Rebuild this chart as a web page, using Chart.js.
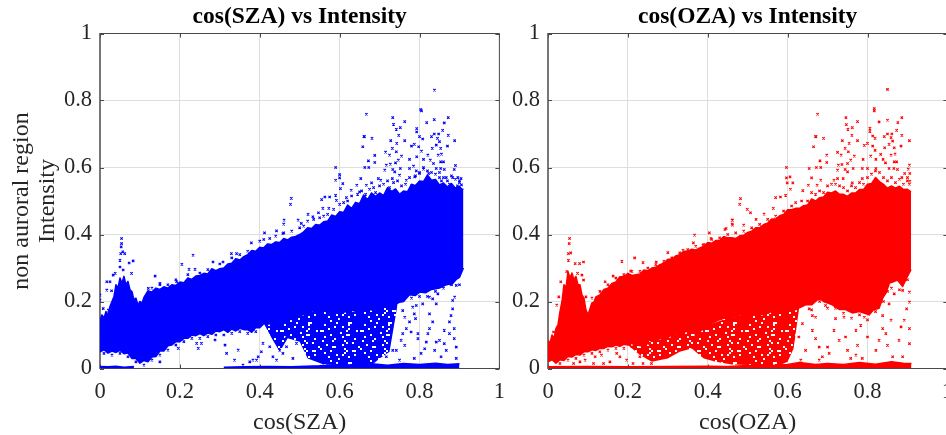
<!DOCTYPE html>
<html>
<head>
<meta charset="utf-8">
<script src="https://cdn.jsdelivr.net/npm/chart.js@4"></script>
<style>
    html, body { margin: 0; padding: 0; background: #fff; width: 946px; height: 435px; overflow: hidden; }
    canvas { position: absolute; top: 0; }
    #chartSza { left: 0; }
    #chartOza { left: 505px; }
</style>
</head>
<body>
<canvas id="chartSza" width="515" height="435"></canvas>
<canvas id="chartOza" width="458" height="435"></canvas>
<script>
const tickValues = [0, 0.2, 0.4, 0.6, 0.8, 1];
const tickLabels = ['0', '0.2', '0.4', '0.6', '0.8', '1'];

// dense cloud outline, [cos, intensity]
const blueUpper = [[0,.145],[.005,.16],[.01,.15],[.015,.17],[.02,.16],[.025,.185],[.03,.2],[.035,.215],[.04,.25],[.045,.24],[.05,.27],[.055,.255],[.06,.275],[.065,.25],[.07,.26],[.075,.235],[.08,.23],[.085,.205],[.09,.21],[.095,.19],[.1,.2],[.105,.195],[.11,.212],[.12,.232],[.13,.228],[.14,.24],[.15,.236],[.16,.244],[.17,.24],[.18,.25],[.19,.248],[.2,.258],[.21,.256],[.22,.27],[.23,.266],[.24,.276],[.25,.278],[.26,.284],[.27,.282],[.28,.298],[.29,.292],[.3,.298],[.31,.3],[.32,.312],[.33,.314],[.34,.328],[.35,.324],[.36,.334],[.37,.34],[.38,.352],[.39,.35],[.4,.362],[.41,.36],[.42,.372],[.43,.37],[.44,.378],[.45,.376],[.46,.388],[.47,.384],[.48,.392],[.49,.394],[.5,.4],[.51,.408],[.52,.42],[.53,.418],[.54,.43],[.55,.428],[.56,.438],[.57,.44],[.58,.458],[.59,.454],[.6,.468],[.61,.466],[.62,.488],[.63,.478],[.64,.496],[.65,.492],[.66,.518],[.67,.504],[.68,.524],[.69,.514],[.7,.524],[.71,.516],[.72,.54],[.73,.528],[.74,.536],[.75,.52],[.76,.53],[.77,.528],[.78,.55],[.79,.546],[.8,.56],[.81,.558],[.82,.578],[.83,.562],[.84,.564],[.85,.548],[.86,.554],[.87,.542],[.88,.552],[.89,.538],[.9,.544],[.905,.536],[.91,.535]];
const blueLower = [[0,.05],[.01,.056],[.02,.046],[.03,.052],[.04,.048],[.05,.054],[.06,.044],[.07,.046],[.08,.03],[.09,.03],[.1,.016],[.11,.024],[.12,.02],[.13,.034],[.14,.036],[.15,.052],[.16,.052],[.17,.068],[.18,.07],[.19,.08],[.2,.08],[.21,.09],[.22,.09],[.23,.1],[.24,.098],[.25,.104],[.26,.098],[.27,.106],[.28,.102],[.29,.112],[.3,.11],[.31,.116],[.32,.108],[.33,.118],[.34,.112],[.35,.12],[.36,.116],[.37,.116],[.38,.108],[.39,.122],[.4,.122],[.41,.134],[.42,.132],[.43,.136],[.44,.134],[.45,.14],[.46,.138],[.475,.146],[.49,.148],[.5,.158],[.517,.162],[.53,.172],[.545,.168],[.558,.174],[.57,.168],[.59,.172],[.61,.168],[.63,.174],[.65,.168],[.67,.176],[.69,.174],[.71,.184],[.73,.184],[.75,.198],[.76,.2],[.775,.22],[.79,.218],[.8,.228],[.815,.226],[.83,.236],[.85,.24],[.87,.252],[.88,.25],[.892,.266],[.9,.272],[.91,.3]];
const blueSpeckleTop = [[.41,.14],[.55,.19],[.65,.19],[.745,.2]];
const blueSpeckleBottom = [[.41,.135],[.43,.09],[.45,.05],[.47,.09],[.5,.08],[.52,.03],[.56,.012],[.62,.01],[.68,.01],[.7,.03],[.725,.05],[.745,.19]];
const redUpper = [[0,.085],[.005,.075],[.01,.1],[.015,.09],[.02,.12],[.025,.13],[.03,.17],[.035,.2],[.04,.25],[.045,.24],[.05,.29],[.055,.27],[.06,.285],[.065,.265],[.07,.275],[.075,.25],[.08,.25],[.085,.22],[.09,.21],[.095,.175],[.1,.16],[.105,.178],[.11,.196],[.115,.198],[.12,.214],[.13,.22],[.14,.236],[.15,.24],[.16,.254],[.17,.258],[.18,.274],[.19,.274],[.2,.284],[.21,.278],[.22,.28],[.23,.282],[.24,.294],[.25,.292],[.26,.3],[.27,.302],[.28,.31],[.29,.314],[.3,.326],[.31,.326],[.32,.336],[.33,.34],[.34,.35],[.35,.35],[.36,.356],[.37,.354],[.38,.36],[.39,.364],[.4,.376],[.41,.374],[.42,.382],[.43,.382],[.44,.394],[.45,.39],[.46,.39],[.47,.388],[.48,.396],[.49,.398],[.5,.406],[.51,.41],[.52,.42],[.53,.42],[.54,.43],[.55,.434],[.56,.446],[.57,.446],[.58,.456],[.59,.46],[.6,.474],[.61,.474],[.62,.478],[.63,.478],[.64,.486],[.65,.488],[.66,.506],[.67,.5],[.68,.51],[.69,.512],[.7,.526],[.71,.524],[.72,.53],[.73,.52],[.74,.52],[.75,.514],[.76,.524],[.77,.524],[.78,.534],[.79,.534],[.8,.55],[.81,.552],[.82,.57],[.83,.558],[.84,.55],[.85,.538],[.86,.545],[.87,.538],[.88,.544],[.89,.534],[.9,.535],[.909,.527]];
const redLower = [[0,.02],[.01,.026],[.02,.016],[.03,.026],[.04,.024],[.05,.036],[.06,.034],[.07,.042],[.08,.04],[.09,.05],[.1,.05],[.11,.056],[.12,.054],[.13,.06],[.14,.06],[.15,.066],[.16,.065],[.17,.07],[.18,.066],[.19,.072],[.2,.07],[.21,.075],[.22,.068],[.23,.08],[.24,.078],[.25,.085],[.26,.082],[.27,.09],[.28,.088],[.29,.094],[.3,.092],[.31,.1],[.32,.098],[.33,.11],[.34,.108],[.35,.112],[.36,.108],[.37,.114],[.38,.112],[.39,.118],[.4,.118],[.41,.135],[.428,.145],[.44,.15],[.46,.15],[.48,.16],[.5,.156],[.52,.164],[.54,.16],[.56,.17],[.58,.166],[.6,.174],[.62,.176],[.645,.19],[.66,.19],[.679,.21],[.69,.2],[.712,.19],[.73,.176],[.745,.176],[.762,.166],[.78,.17],[.804,.16],[.815,.175],[.829,.18],[.838,.21],[.846,.225],[.855,.255],[.863,.258],[.875,.264],[.888,.245],[.9,.275],[.909,.295]];
const redSpeckleTop = [[.2,.075],[.3,.11],[.4,.13],[.5,.17],[.6,.19],[.63,.2]];
const redSpeckleBottom = [[.2,.07],[.23,.04],[.26,.02],[.3,.03],[.33,.05],[.36,.06],[.39,.03],[.42,.02],[.46,.012],[.52,.01],[.58,.01],[.6,.02],[.615,.06],[.63,.19]];

// baseline at zero intensity, null leaves the empty stretch
const blueBaseline = [[0,.006],[.02,.005],[.04,.007],[.06,.004],[.085,.006],[.2,null],[.31,.004],[.36,.005],[.42,.006],[.48,.005],[.55,.008],[.6,.012],[.64,.01],[.68,.014],[.72,.01],[.76,.015],[.8,.012],[.84,.016],[.87,.012],[.9,.014]];
const redBaseline = [[0,.005],[.1,.006],[.2,.005],[.3,.006],[.4,.007],[.45,.006],[.5,.009],[.55,.008],[.6,.012],[.63,.018],[.67,.012],[.7,.015],[.74,.012],[.78,.018],[.82,.013],[.86,.02],[.89,.016],[.91,.015]];

// individual readable markers
const bluePoints = [[.8375,.831],[.667,.759],[.803,.773],[.805,.769],[.733,.749],[.735,.729],[.742,.714],[.752,.719],[.763,.737],[.793,.716],[.793,.706],[.818,.734],[.837,.743],[.862,.733],[.872,.749],[.858,.711],[.848,.7],[.837,.7],[.83,.692],[.872,.696],[.888,.68],[.87,.664],[.661,.692],[.662,.692],[.681,.687],[.658,.662],[.688,.636],[.688,.615],[.672,.62],[.663,.6],[.673,.6],[.728,.68],[.748,.696],[.763,.68],[.743,.672],[.732,.657],[.742,.647],[.715,.646],[.725,.637],[.755,.634],[.747,.622],[.74,.614],[.727,.61],[.717,.607],[.713,.592],[.733,.594],[.738,.587],[.752,.597],[.775,.624],[.78,.664],[.787,.669],[.798,.662],[.805,.649],[.793,.632],[.8,.692],[.808,.685],[.821,.637],[.81,.624],[.827,.622],[.835,.612],[.832,.657],[.842,.667],[.85,.677],[.845,.687],[.853,.657],[.855,.64],[.847,.637],[.853,.617],[.86,.617],[.842,.597],[.853,.597],[.862,.594],[.89,.606],[.887,.594],[.785,.604],[.775,.597],[.81,.6],[.792,.59],[.823,.582],[.8,.582],[.75,.577],[.732,.567],[.703,.562],[.697,.567],[.68,.554],[.667,.547],[.653,.567],[.6,.579],[.59,.6],[.6,.569],[.59,.562],[.602,.537],[.608,.552],[.629,.532],[.643,.547],[.65,.527],[.575,.512],[.563,.512],[.555,.504],[.59,.517],[.617,.51],[.479,.508],[.477,.49],[.521,.46],[.533,.453],[.547,.465],[.558,.478],[.573,.478],[.592,.502],[.461,.443],[.46,.431],[.496,.443],[.504,.433],[.904,.567],[.896,.57],[.883,.57],[.867,.57],[.85,.57],[.767,.562],[.788,.572],[.9,.56],
    [.054,.388],[.054,.373],[.053,.363],[.057,.348],[.052,.343],[.062,.343],[.05,.323],[.083,.321],[.073,.315],[.05,.303],[.058,.294],[.079,.284],[.038,.284],[.033,.279],[.017,.259],[.025,.259],[.017,.234],[.029,.232],[0,.219],[0,.204],[.04,.214],[.008,.179],[.021,.174],
    [.138,.276],[.15,.254],[.121,.239],[.233,.338],[.205,.311],[.223,.296],[.238,.296],[.192,.259],[.283,.318],[.308,.318],[.329,.343],[.342,.343],[.379,.375],[.412,.405],[.442,.411],[.458,.403],[.425,.388],
    [.15,.02],[.125,.06],[.196,.06],[.246,.06],[.254,.075],[.288,.085],[.242,.075],[.317,.045],[.313,.07],[.346,.055],[.337,.025],[.358,.01],[.375,.02],[.383,.025],[.392,.025],[.396,.035],[.404,.05],[.408,.075],[.425,.065],[.45,.055],[.433,.035],[.458,.045],[.467,.065],[.483,.03],[.442,.025],[.45,.085],[.467,.095],[.492,.075],
    [.758,.173],[.763,.153],[.767,.119],[.758,.104],[.754,.084],[.763,.069],[.742,.054],[.75,.025],[.775,.139],[.787,.163],[.792,.188],[.79,.149],[.796,.104],[.796,.089],[.817,.079],[.813,.059],[.804,.045],[.787,.03],[.825,.163],[.833,.139],[.825,.119],[.821,.104],[.842,.079],[.838,.054],[.854,.035],[.862,.114],[.85,.084],[.862,.074],[.883,.203],[.883,.178],[.879,.158],[.875,.139],[.887,.119],[.875,.104],[.887,.089],[.892,.064],[.867,.054],[.892,.03],[.888,.213],[.892,.248],[.867,.252],[.846,.223],[.825,.213],[.808,.193],[.842,.193],[.833,.208],[.733,.054],[.717,.035],[.783,.183],[.779,.109],
    [.62,.5],[.63,.515],[.645,.52],[.655,.53],[.665,.52],[.675,.535],[.685,.54],[.69,.525],[.7,.545],[.71,.55],[.72,.56],[.725,.54],[.735,.555],[.745,.56],[.755,.545],[.765,.55],[.775,.57],[.78,.545],[.79,.575],[.8,.585],[.81,.595],[.82,.59],[.83,.585],[.84,.58],[.85,.585],[.86,.57],[.87,.56],[.88,.575],[.89,.565],[.9,.555],[.905,.548],[.895,.545],[.875,.55],[.855,.56],[.48,.41],[.5,.42],[.51,.425],[.52,.44],[.535,.445],[.55,.45],[.56,.455],[.57,.46],[.585,.475],[.6,.49],[.61,.495],[.44,.395],[.46,.405],[.4,.38],[.41,.385],[.37,.35],[.35,.34],[.33,.33],[.3,.312],[.27,.295],[.25,.285],[.22,.28],[.19,.265],[.17,.25],[.15,.25],[.13,.24],
    [.09,.02],[.11,.01],[.07,.035],[.05,.045],[.03,.04],[.01,.045],[.13,.025],[.15,.04],[.17,.055],[.19,.07],[.21,.08],[.23,.09],[.25,.09],[.27,.095],[.29,.1],[.31,.1],[.33,.105],[.35,.11],[.37,.105],[.39,.11],[.76,.205],[.78,.21],[.8,.215],[.82,.215],[.84,.23],[.86,.24],[.88,.25],[.9,.25]];
const redPoints = [[.85,.833],[.675,.759],[.817,.776],[.817,.769],[.746,.749],[.747,.728],[.751,.714],[.762,.719],[.775,.737],[.806,.717],[.806,.707],[.829,.736],[.85,.741],[.876,.734],[.886,.749],[.873,.711],[.861,.7],[.85,.7],[.842,.692],[.886,.696],[.905,.68],[.884,.664],[.67,.692],[.671,.692],[.69,.687],[.665,.662],[.698,.637],[.698,.615],[.681,.62],[.672,.6],[.683,.6],[.737,.68],[.761,.696],[.775,.68],[.754,.672],[.744,.657],[.752,.647],[.725,.645],[.734,.637],[.767,.634],[.758,.622],[.75,.612],[.736,.609],[.727,.607],[.725,.592],[.744,.594],[.75,.587],[.764,.597],[.789,.624],[.792,.666],[.8,.672],[.813,.664],[.819,.651],[.808,.634],[.813,.694],[.819,.687],[.833,.639],[.821,.624],[.839,.624],[.845,.614],[.843,.659],[.854,.669],[.863,.679],[.859,.689],[.867,.659],[.869,.64],[.859,.637],[.867,.617],[.873,.617],[.854,.597],[.866,.597],[.875,.594],[.905,.607],[.902,.595],[.906,.582],[.893,.582],[.9,.57],[.906,.559],[.886,.57],[.597,.6],[.597,.569],[.606,.572],[.599,.554],[.613,.554],[.654,.597],[.66,.569],[.652,.547],[.674,.547],[.683,.562],[.638,.531],[.607,.535],[.582,.512],[.57,.51],[.564,.478],[.595,.517],[.482,.507],[.48,.49],[.499,.475],[.521,.445],[.507,.465],[.49,.428],[.461,.443],[.461,.431],[.443,.415],[.541,.461],[.725,.567],[.739,.567],[.762,.554],[.787,.567],[.8,.597],[.821,.597],[.787,.597],[.716,.562],
    [.054,.388],[.053,.373],[.057,.345],[.051,.343],[.089,.318],[.079,.313],[.051,.323],[.068,.313],[.047,.289],[.032,.259],[.085,.279],[.074,.284],[.027,.214],[.022,.189],[.014,.109],[.089,.264],[.095,.214],
    [.185,.32],[.217,.33],[.238,.316],[.163,.276],[.143,.259],[.207,.291],[.3,.346],[.271,.318],[.338,.353],[.367,.398],[.364,.375],[.404,.405],[.446,.418],[.462,.443],[.462,.428],[.408,.388],[.388,.368],
    [.064,.015],[.08,.02],[.093,.025],[.118,.035],[.134,.04],[.155,.02],[.139,.015],[.172,.045],[.18,.035],[.197,.025],[.23,.035],[.238,.015],[.213,.015],[.259,.015],[.114,.015],
    [.654,.178],[.662,.158],[.637,.134],[.662,.114],[.67,.089],[.679,.064],[.7,.064],[.687,.035],[.704,.045],[.72,.149],[.716,.114],[.729,.084],[.745,.094],[.75,.054],[.758,.03],[.771,.04],[.775,.069],[.771,.114],[.783,.129],[.792,.153],[.8,.094],[.821,.054],[.829,.084],[.838,.119],[.846,.104],[.85,.069],[.863,.035],[.859,.144],[.854,.193],[.879,.084],[.884,.124],[.892,.144],[.898,.178],[.905,.198],[.905,.228],[.888,.233],[.867,.223],[.905,.119],[.905,.074],[.888,.035],[.628,.094],[.645,.054],[.633,.025],[.679,.025],[.67,.153],[.695,.188],[.741,.153],[.838,.158],[.787,.03],
    [.62,.495],[.635,.5],[.65,.5],[.66,.525],[.67,.52],[.68,.53],[.69,.525],[.7,.545],[.71,.55],[.72,.55],[.73,.545],[.74,.54],[.75,.53],[.76,.545],[.77,.54],[.78,.555],[.79,.55],[.8,.57],[.81,.58],[.82,.59],[.83,.585],[.84,.57],[.85,.56],[.86,.57],[.87,.555],[.88,.565],[.89,.55],[.9,.56],[.905,.55],[.45,.4],[.47,.405],[.49,.41],[.51,.42],[.53,.43],[.55,.445],[.57,.455],[.59,.47],[.61,.485],[.43,.39],[.41,.385],[.39,.37],[.37,.365],[.35,.355],[.33,.345],[.31,.33],[.29,.32],[.27,.31],[.25,.3],[.23,.29],[.21,.29],[.19,.28],[.17,.27],[.15,.25],[.13,.23],[.11,.21],
    [.03,.015],[.05,.025],[.07,.03],[.09,.04],[.11,.045],[.13,.05],[.15,.055],[.17,.06],[.19,.06],[.21,.065],[.23,.07],[.25,.075],[.27,.08],[.29,.085],[.31,.09],[.33,.095],[.35,.1],[.37,.1],[.39,.105],[.7,.18],[.68,.2],[.66,.175],[.72,.18],[.74,.165],[.76,.15],[.78,.16],[.8,.145],[.82,.17],[.84,.2],[.86,.24],[.88,.235],[.9,.265],[.85,.23]];

// fill texture for the thinner part of each cloud, one character per 2px cell
const speckleRows = [
    '#####.##############', '########.#####..####', '##.###########.#####', '#######.###.########',
    '####.#########.#####', '..###########.####.#', '##########.#########', '#####.#######..#####',
    '##.########.########', '#######.#########.##', '#.####.#####.#######', '#############.##.###',
    '###.#######.########', '######..###########.', '.###########.#######', '#####.#######.##..##',
    '##.#########.#######', '########.##.#####.##', '####.#########.#####', '#########.##########',
];
const speckleCell = 2;

const asXY = (pairs) => pairs.map(([x, y]) => ({ x, y }));
const serif = '"Liberation Serif", "Times New Roman", serif';
const textColor = '#262626';
const axisColor = '#4a4a4a';

function specklePattern(color) {
    const tile = document.createElement('canvas');
    tile.width = speckleRows[0].length * speckleCell;
    tile.height = speckleRows.length * speckleCell;
    const ctx = tile.getContext('2d');
    ctx.fillStyle = color;
    speckleRows.forEach((row, y) => {
        [...row].forEach((c, x) => {
            if (c === '#') ctx.fillRect(x * speckleCell, y * speckleCell, speckleCell, speckleCell);
        });
    });
    return ctx.createPattern(tile, 'repeat');
}

function cloud(pairs, color, fill, width) {
    return { type: 'scatter', data: asXY(pairs), showLine: true, tension: 0, pointRadius: 0,
        borderColor: color, borderWidth: width, borderJoinStyle: 'round', backgroundColor: color, fill };
}

// MATLAB style box: top and right lines, inward tick marks
const boxPlugin = {
    id: 'box',
    beforeDatasetsDraw(chart) {
        const { ctx, chartArea: a, scales } = chart;
        ctx.save();
        ctx.strokeStyle = axisColor;
        ctx.lineWidth = 1;
        ctx.beginPath();
        ctx.moveTo(a.left, a.top);
        ctx.lineTo(a.right, a.top);
        ctx.lineTo(a.right, a.bottom);
        tickValues.forEach((v) => {
            const px = Math.round(scales.x.getPixelForValue(v)) + 0.5;
            const py = Math.round(scales.y.getPixelForValue(v)) + 0.5;
            ctx.moveTo(px, a.bottom); ctx.lineTo(px, a.bottom - 4);
            ctx.moveTo(px, a.top); ctx.lineTo(px, a.top + 4);
            ctx.moveTo(a.left, py); ctx.lineTo(a.left + 4, py);
            ctx.moveTo(a.right, py); ctx.lineTo(a.right - 4, py);
        });
        ctx.stroke();
        ctx.restore();
    },
};

function makeChart(id, cfg) {
    return new Chart(document.getElementById(id), {
        data: {
            datasets: [
                { type: 'scatter', data: asXY(cfg.points), pointStyle: 'crossRot', pointRadius: 1.7,
                    pointBorderWidth: 1.1, borderColor: cfg.color, backgroundColor: cfg.color },
                cloud(cfg.upper, cfg.color, '+1', 1.5),
                cloud(cfg.lower, cfg.color, false, 1.5),
                cloud(cfg.baseline, cfg.color, { value: 0 }, 1.5),
                cloud(cfg.speckleTop, specklePattern(cfg.color), '+1', 0),
                cloud(cfg.speckleBottom, specklePattern(cfg.color), false, 0),
            ],
        },
        options: {
            responsive: false,
            animation: false,
            layout: { padding: 0 },
            plugins: {
                legend: { display: false },
                tooltip: { enabled: false },
                title: {
                    display: true, text: cfg.title, color: '#000', fullSize: false,
                    font: { family: serif, size: 23.5, weight: 'bold', lineHeight: 1 },
                    padding: { top: 5, bottom: 5 },
                },
            },
            scales: {
                x: {
                    type: 'linear', min: 0, max: 1,
                    afterBuildTicks: (s) => { s.ticks = tickValues.map((value) => ({ value })); },
                    afterFit: (s) => { s.height = 435 - 368.5; },
                    grid: { color: '#dedede', drawTicks: false },
                    border: { color: axisColor },
                    ticks: { color: textColor, padding: 10, maxRotation: 0,
                        font: { family: serif, size: 22.5 },
                        callback: (v) => tickLabels[tickValues.indexOf(v)] },
                    title: { display: true, text: cfg.xTitle, color: textColor, padding: { top: 0, bottom: 0 },
                        font: { family: serif, size: 24, lineHeight: 1.05 } },
                },
                y: {
                    type: 'linear', min: 0, max: 1,
                    afterBuildTicks: (s) => { s.ticks = tickValues.map((value) => ({ value })); },
                    afterFit: (s) => { s.width = cfg.axisWidth; },
                    grid: { color: '#dedede', drawTicks: false },
                    border: { color: '#777', width: 2 },
                    ticks: { color: textColor, padding: 8,
                        font: { family: serif, size: 22.5 },
                        callback: (v) => tickLabels[tickValues.indexOf(v)] },
                    title: { display: cfg.yTitle.length > 0, text: cfg.yTitle, color: textColor,
                        padding: { top: 9, bottom: 0 },
                        font: { family: serif, size: 24, lineHeight: 1.08 } },
                },
            },
        },
        plugins: [boxPlugin],
    });
}

makeChart('chartSza', {
    title: 'cos(SZA) vs Intensity', xTitle: 'cos(SZA)', yTitle: ['non auroral region', 'Intensity'],
    axisWidth: 100, color: '#0000ff',
    upper: blueUpper, lower: blueLower, speckleTop: blueSpeckleTop, speckleBottom: blueSpeckleBottom,
    baseline: blueBaseline, points: bluePoints,
});

makeChart('chartOza', {
    title: 'cos(OZA) vs Intensity', xTitle: 'cos(OZA)', yTitle: [],
    axisWidth: 43, color: '#ff0000',
    upper: redUpper, lower: redLower, speckleTop: redSpeckleTop, speckleBottom: redSpeckleBottom,
    baseline: redBaseline, points: redPoints,
});
</script>
</body>
</html>
